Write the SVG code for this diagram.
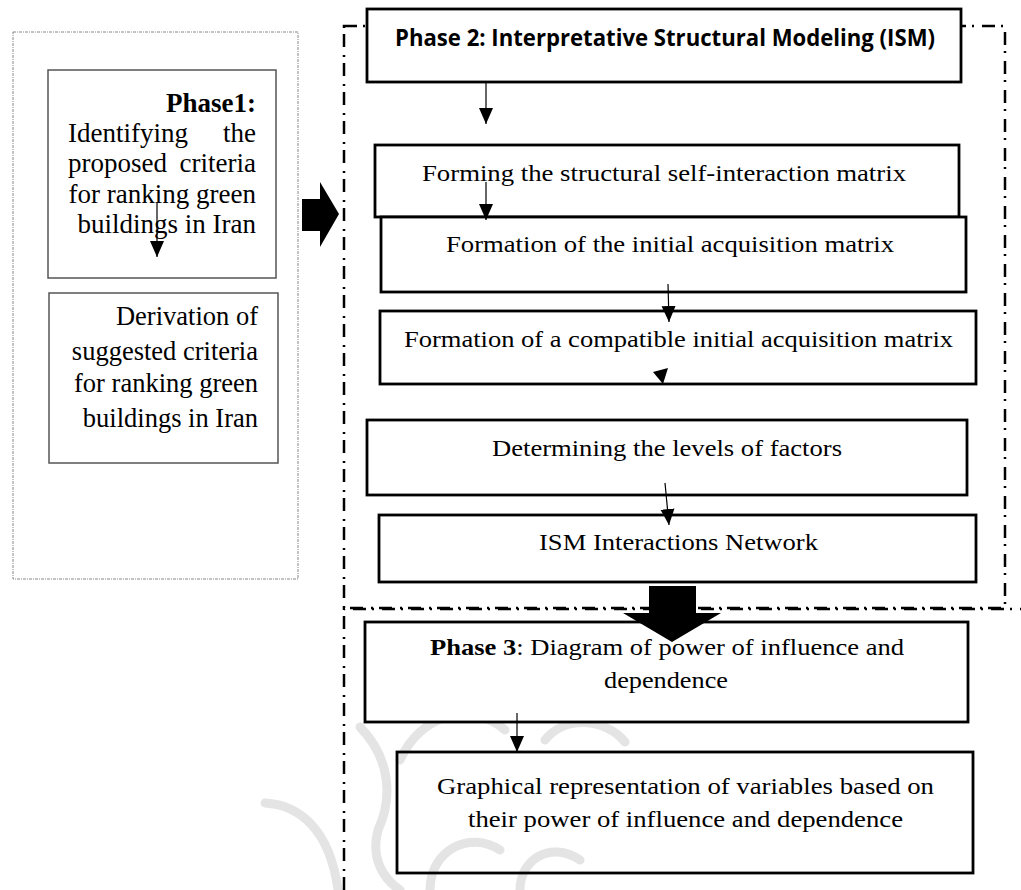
<svg xmlns="http://www.w3.org/2000/svg" width="1021" height="890" viewBox="0 0 1021 890">
<style>
.box{fill:#fff;stroke:#000;stroke-width:2.8}
.clear{fill:none}
.gbox{fill:#fff;stroke:#555;stroke-width:1.5}
.t{font-family:"Liberation Serif","Times New Roman",serif;font-size:24px;fill:#000}
.lt{font-family:"Liberation Serif","Times New Roman",serif;font-size:27px;fill:#000}
.dt{font-family:"Liberation Serif","Times New Roman",serif;font-size:26.5px;fill:#000}
.b{font-weight:bold}
.frame{fill:none;stroke:#000;stroke-width:2.5;stroke-dasharray:13 6 2 8}
.dotted{fill:none;stroke:#888;stroke-width:1;stroke-dasharray:3 1 1 1}
.conn{stroke:#000;stroke-width:1.2;fill:none;marker-end:url(#ah)}
.big{fill:#000}
.wm{fill:none;stroke:#e4e4e4;stroke-width:9;stroke-linecap:round}
</style>
<defs>
<marker id="ah" markerUnits="userSpaceOnUse" markerWidth="16" markerHeight="16" refX="16" refY="8" orient="auto">
<path d="M0,1 L16,8 L0,15 z" fill="#000"/>
</marker>
</defs>
<rect width="1021" height="890" fill="#fff"/>

<g id="watermark">
<path class="wm" d="M265,803 C300,805 330,830 338,890"/>
<path class="wm" d="M360,727 C392,760 392,800 378,830 C370,860 385,880 400,890"/>
<path class="wm" d="M400,760 C420,715 470,700 505,730"/>
<path class="wm" d="M545,740 C565,715 605,718 625,742"/>
<path class="wm" d="M430,890 C430,850 470,830 500,850"/>
<path class="wm" d="M520,890 C520,860 550,840 580,860"/>
</g>

<g id="frames">
<rect class="dotted" x="13" y="32" width="285" height="547"/>
<rect class="frame" x="344" y="26" width="661" height="582"/>
<path class="frame" d="M344,890 L344,609 L1021,609"/>
</g>

<g id="phase1">
<rect class="gbox" x="48" y="70" width="228" height="208"/>
<text class="lt b" x="256" y="112" text-anchor="end">Phase1:</text>
<text class="lt" x="68" y="142">Identifying</text>
<text class="lt" x="256" y="142" text-anchor="end">the</text>
<text class="lt" x="68" y="172">proposed</text>
<text class="lt" x="256" y="172" text-anchor="end">criteria</text>
<text class="lt" x="256" y="203" text-anchor="end">for ranking green</text>
<text class="lt" x="256" y="233" text-anchor="end">buildings in Iran</text>
</g>

<g id="derivation">
<rect class="gbox" x="49" y="293" width="229" height="170"/>
<text class="dt" x="258" y="325" text-anchor="end">Derivation of</text>
<text class="dt" x="258" y="360" text-anchor="end">suggested criteria</text>
<text class="dt" x="258" y="392" text-anchor="end">for ranking green</text>
<text class="dt" x="258" y="427" text-anchor="end">buildings in Iran</text>
</g>

<g id="phase2-title">
<rect class="box" x="367" y="9" width="594" height="73"/>
<text x="395" y="46" font-family="'Open Sans','Noto Sans',sans-serif" font-weight="bold" font-size="24" textLength="540" lengthAdjust="spacingAndGlyphs">Phase 2: Interpretative Structural Modeling (ISM)</text>
</g>

<g id="ssim">
<rect class="box" x="375" y="145" width="584" height="72"/>
<text class="t" x="422" y="181" textLength="484" lengthAdjust="spacingAndGlyphs">Forming the structural self-interaction matrix</text>
</g>

<g id="initial">
<rect class="box" x="381" y="217" width="585" height="75"/>
<text class="t" x="446" y="252" textLength="448" lengthAdjust="spacingAndGlyphs">Formation of the initial acquisition matrix</text>
</g>

<g id="compatible">
<rect class="box" x="380" y="311" width="596" height="73"/>
<text class="t" x="404" y="347" textLength="549" lengthAdjust="spacingAndGlyphs">Formation of a compatible initial acquisition matrix</text>
</g>

<g id="levels">
<rect class="box" x="367" y="420" width="600" height="75"/>
<text class="t" x="492" y="456" textLength="350" lengthAdjust="spacingAndGlyphs">Determining the levels of factors</text>
</g>

<g id="network">
<rect class="box" x="379" y="515" width="597" height="67"/>
<text class="t" x="539" y="550" textLength="279" lengthAdjust="spacingAndGlyphs">ISM Interactions Network</text>
</g>

<g id="phase3">
<rect class="box" x="365" y="622" width="603" height="100"/>
<text class="t" x="430" y="655" textLength="474" lengthAdjust="spacingAndGlyphs"><tspan class="b">Phase 3</tspan>: Diagram of power of influence and</text>
<text class="t" x="604" y="688" textLength="124" lengthAdjust="spacingAndGlyphs">dependence</text>
</g>

<g id="graphical">
<rect class="box clear" x="397" y="752" width="576" height="121"/>
<text class="t" x="437" y="794" textLength="497" lengthAdjust="spacingAndGlyphs">Graphical representation of variables based on</text>
<text class="t" x="468" y="827" textLength="435" lengthAdjust="spacingAndGlyphs">their power of influence and dependence</text>
</g>

<g id="connectors">
<line class="conn" x1="157" y1="203" x2="157" y2="257"/>
<line class="conn" x1="486" y1="82" x2="486" y2="124"/>
<line class="conn" x1="486" y1="182" x2="486" y2="220"/>
<line class="conn" x1="668" y1="284" x2="669" y2="322"/>
<line class="conn" x1="665" y1="483" x2="669" y2="525"/>
<line class="conn" x1="517" y1="713" x2="517" y2="752"/>
<polygon class="big" points="653,372 668,368 663,384"/>
<polygon class="big" points="302,199 320,199 320,182 339,214 320,247 320,231 302,231"/>
<polygon class="big" points="649,586 696,586 696,613 721,613 672,642 623,613 649,613"/>
</g>
</svg>
